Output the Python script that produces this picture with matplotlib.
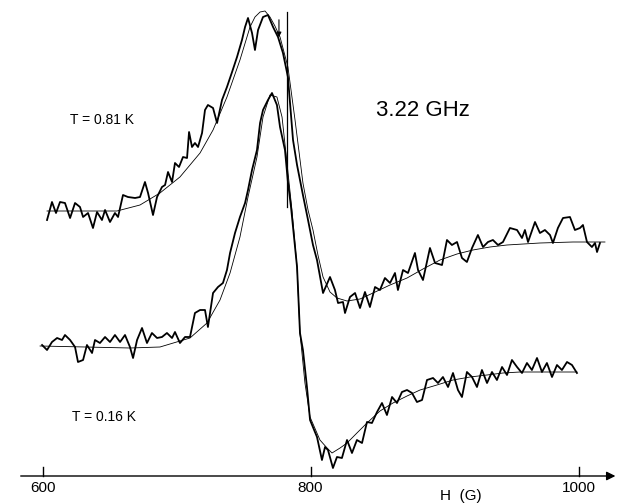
import numpy as np
import matplotlib
matplotlib.use('Agg')
import matplotlib.pyplot as plt

plt.rcParams['font.family'] = ['Liberation Sans', 'DejaVu Sans']

# T = 0.81 K : measured trace, field H (G) and signal (arb. units, from baseline)
h_081 = [603.3, 607.0, 610.0, 613.0, 616.7, 620.5, 624.2, 627.9, 630.2, 633.9,
         637.6, 640.6, 644.3, 646.6, 650.3, 654.0, 656.3, 660.0, 663.7, 669.0,
         672.7, 676.4, 678.7, 682.4, 685.4, 689.1, 691.4, 693.6, 696.6, 698.8,
         701.8, 704.8, 707.8, 709.3, 711.5, 713.7, 716.0, 719.0, 721.2, 723.4,
         727.2, 730.2, 733.9, 737.6, 741.4, 745.1, 748.8, 751.1, 753.3, 756.3,
         758.5, 760.8, 764.5, 768.2, 772.0, 775.7, 779.4, 783.1, 786.9, 789.9,
         792.1, 794.3, 798.1, 801.8, 804.8, 809.3, 814.5, 818.2, 820.5, 824.2,
         825.7, 829.4, 833.2, 836.9, 840.6, 844.3, 848.1, 851.8, 855.5, 859.3,
         863.0, 865.2, 869.0, 872.7, 877.9, 880.2, 883.9, 889.1, 892.9, 898.1,
         901.8, 905.5, 909.3, 913.0, 916.7, 920.5, 924.9, 928.7, 932.4, 936.1,
         939.9, 943.6, 948.8, 954.1, 957.8, 960.0, 962.3, 967.5, 971.2, 974.9,
         978.7, 980.9, 984.6, 988.4, 993.6, 997.3, 1001.1, 1003.3, 1006.3, 1010.0,
         1012.3, 1013.8, 1016.0]
s_081 = [-9, 9, -2, 9, 8, -7, 8, 4, -6, -2,
         -17, -1, -9, 1, -11, -2, -6, 16, 14, 13,
         14, 29, 18, -4, 14, 24, 26, 39, 29, 48,
         44, 54, 53, 79, 64, 68, 64, 78, 101, 106,
         103, 88, 111, 124, 139, 154, 171, 184, 193, 178,
         161, 181, 194, 196, 184, 174, 158, 134, 71, 46,
         31, 16, -9, -34, -49, -82, -66, -79, -92, -91,
         -102, -86, -82, -97, -81, -96, -76, -79, -67, -72,
         -62, -79, -59, -62, -42, -59, -69, -37, -52, -54,
         -29, -34, -31, -47, -51, -37, -24, -36, -31, -29,
         -34, -31, -17, -19, -27, -19, -31, -11, -22, -19,
         -24, -32, -17, -7, -6, -19, -17, -14, -31, -36,
         -32, -41, -32]

# T = 0.81 K : fitted line shape
h_081_fit = [603.3, 627.9, 655.5, 672.7, 687.6, 702.5, 717.5, 727.2, 737.6, 747.3,
             754.8, 758.5, 762.3, 766.0, 769.7, 773.4, 777.2, 783.1, 788.4, 794.3,
             798.1, 801.8, 805.5, 809.3, 814.5, 819.7, 827.2, 836.9, 846.6, 859.3,
             872.0, 883.9, 896.6, 909.3, 921.2, 933.9, 946.6, 971.2, 995.8, 1019.7]
s_081_fit = [0, 0, 0, 6, 18, 34, 58, 81, 114, 151,
             184, 194, 199, 200, 194, 185, 174, 144, 91, 28,
             1, -19, -44, -66, -81, -87, -90, -88, -82, -74,
             -67, -58, -49, -43, -39, -36, -34, -32, -31, -31]

# T = 0.16 K : measured trace
h_016 = [599.6, 603.3, 607.0, 610.8, 614.5, 616.7, 620.5, 624.2, 626.4, 630.2,
         633.1, 636.9, 639.1, 642.8, 646.6, 650.3, 654.0, 657.8, 661.5, 665.2,
         667.5, 670.5, 674.2, 677.9, 681.6, 685.4, 689.1, 692.8, 696.6, 698.8,
         702.5, 706.3, 710.0, 713.7, 717.5, 721.2, 723.4, 727.2, 730.9, 734.6,
         737.6, 739.9, 743.6, 747.3, 751.1, 753.3, 756.3, 760.0, 762.3, 764.5,
         768.2, 771.2, 774.9, 777.2, 780.9, 783.1, 785.4, 789.9, 792.1, 794.3,
         797.3, 799.6, 804.8, 808.5, 810.8, 813.0, 816.7, 819.7, 823.4, 827.2,
         830.9, 834.6, 838.4, 842.1, 845.8, 849.6, 853.3, 857.0, 860.8, 864.5,
         868.2, 872.0, 875.7, 879.4, 883.2, 886.9, 891.4, 895.1, 898.8, 902.6,
         906.3, 910.0, 913.0, 916.7, 920.5, 924.2, 927.9, 931.7, 935.4, 939.1,
         942.9, 946.6, 950.3, 954.1, 957.8, 961.5, 965.2, 969.0, 972.7, 976.4,
         980.2, 983.9, 987.6, 991.4, 995.1, 998.8]
s_016 = [2, -3, 5, 9, 7, 12, 7, 0, -15, -13,
         2, -6, 7, 4, 10, 5, 12, 5, 12, 0,
         -11, 7, 19, 4, 14, 9, 10, 14, 9, 15,
         4, 10, 10, 34, 37, 37, 20, 54, 60, 64,
         77, 94, 114, 130, 144, 157, 177, 197, 224, 237,
         247, 254, 242, 220, 197, 165, 140, 80, 14, -3,
         -40, -73, -90, -113, -100, -103, -121, -110, -111, -93,
         -106, -93, -96, -75, -76, -65, -56, -68, -50, -56,
         -45, -43, -46, -55, -53, -33, -31, -36, -30, -40,
         -26, -43, -50, -25, -30, -40, -23, -36, -25, -33,
         -20, -28, -13, -20, -26, -16, -23, -11, -25, -16,
         -30, -18, -23, -15, -18, -26]

# T = 0.16 K : fitted line shape
h_016_fit = [598.1, 665.2, 687.6, 710.0, 722.7, 732.4, 739.9, 747.3, 753.3, 760.0,
             764.5, 769.7, 774.9, 778.7, 782.4, 786.1, 789.9, 792.1, 795.8, 799.6,
             807.0, 812.3, 816.0, 822.0, 827.2, 834.6, 842.1, 851.8, 861.5, 872.0,
             881.7, 894.3, 906.3, 919.0, 931.7, 943.6, 956.3, 969.0, 980.9, 998.8]
s_016_fit = [1, -1, 0, 9, 24, 47, 74, 110, 150, 190,
             230, 252, 250, 230, 184, 137, 80, 14, -36, -70,
             -93, -101, -106, -101, -96, -86, -76, -64, -56, -49,
             -43, -38, -33, -30, -28, -26, -25, -25, -25, -25]

ticks = [600, 800, 1000]
off_081 = 265
off_016 = 129
h_res = 782.4     # vertical marker
h_arrow = 776.4   # small arrow

fig = plt.figure(figsize=(6.19, 5.04), dpi=100)
ax = fig.add_axes([0, 0, 1, 1])
ax.set_xlim(568.2, 1030.2)
ax.set_ylim(-28, 476)
ax.axis('off')

ax.plot(h_081, np.array(s_081) + off_081, color='k', lw=1.3)
ax.plot(h_081_fit, np.array(s_081_fit) + off_081, color='k', lw=0.6)
ax.plot(h_016, np.array(s_016) + off_016, color='k', lw=1.3)
ax.plot(h_016_fit, np.array(s_016_fit) + off_016, color='k', lw=0.6)

# field axis
ax.annotate('', xy=(1029.6, 0), xytext=(581.6, 0),
            arrowprops=dict(arrowstyle='-|>', color='k', lw=1.0, mutation_scale=13))
for t in ticks:
    ax.plot([t, t], [0, 9], color='k', lw=1.0)
    ax.text(t, -12, str(t), ha='center', va='center', fontsize=11)
ax.text(912, -20, 'H  (G)', ha='center', va='center', fontsize=11)

# markers
ax.plot([h_res, h_res], [269, 464], color='k', lw=0.9)
ax.annotate('', xy=(h_arrow, 436), xytext=(h_arrow, 459),
            arrowprops=dict(arrowstyle='-|>', color='k', lw=0.8, mutation_scale=7))

ax.text(884, 366, '3.22 GHz', ha='center', va='center', fontsize=16)
ax.text(644, 356, 'T = 0.81 K', ha='center', va='center', fontsize=10)
ax.text(646, 59, 'T = 0.16 K', ha='center', va='center', fontsize=10)

fig.savefig('out.png', dpi=100)
